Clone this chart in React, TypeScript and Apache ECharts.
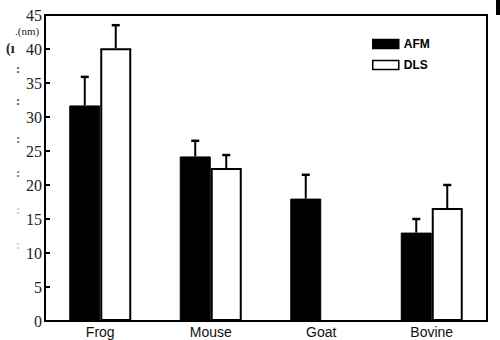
import React, { useEffect, useRef } from "react";
import * as echarts from "echarts";

const categories = ["Frog", "Mouse", "Goat", "Bovine"];
const afmValues = [31.7, 24.2, 18.0, 13.0];
const afmErrors = [4.2, 2.3, 3.5, 2.0];
const dlsValues: (number | null)[] = [40.1, 22.5, null, 16.6];
const dlsErrors: (number | null)[] = [3.4, 1.9, null, 3.4];
const seriesNames = ["AFM", "DLS"];

const BAR_W = 31;
const SERIF = "'Liberation Serif', 'Times New Roman', serif";
const SANS = "'Liberation Sans', Arial, sans-serif";

function errorSeries(values: (number | null)[], errors: (number | null)[], offset: number) {
  const data = values.map((v, i) => [i, v, errors[i]]);
  return {
    type: "custom",
    z: 5,
    silent: true,
    data: data.filter((d) => d[1] != null),
    renderItem: (params: any, api: any) => {
      const idx = api.value(0);
      const val = api.value(1);
      const err = api.value(2);
      const base = api.coord([idx, val]);
      const top = api.coord([idx, val + err]);
      const x = base[0] + offset;
      return {
        type: "group",
        children: [
          {
            type: "line",
            shape: { x1: x, y1: base[1], x2: x, y2: top[1] },
            style: { stroke: "#000", lineWidth: 2 },
          },
          {
            type: "line",
            shape: { x1: x - 4, y1: top[1], x2: x + 4, y2: top[1] },
            style: { stroke: "#000", lineWidth: 2.5 },
          },
        ],
      };
    },
  };
}

export default function App() {
  const ref = useRef<HTMLDivElement>(null);
  useEffect(() => {
    if (!ref.current) return;
    const chart = echarts.init(ref.current, undefined, { renderer: "svg" });
    const leftMarks = [
      { x: 16, y: 62, c: "#555" },
      { x: 16, y: 94, c: "#555" },
      { x: 16, y: 132, c: "#666" },
      { x: 16, y: 166, c: "#777" },
      { x: 16, y: 203, c: "#ccc" },
      { x: 16, y: 238, c: "#ccc" },
    ];
    chart.setOption({
      animation: false,
      backgroundColor: "#fff",
      grid: {
        left: 45,
        right: 13,
        top: 15,
        bottom: 19,
        show: true,
        borderColor: "#000",
        borderWidth: 2,
        containLabel: false,
      },
      legend: {
        data: [
          { name: seriesNames[0], icon: "rect" },
          { name: seriesNames[1], icon: "rect" },
        ],
        orient: "vertical",
        left: 367,
        top: 33,
        itemWidth: 26,
        itemHeight: 9,
        itemGap: 9,
        itemStyle: { borderWidth: 1.5 },
        textStyle: {
          fontFamily: SANS,
          fontWeight: "bold",
          fontSize: 12,
          color: "#000",
        },
      },
      xAxis: {
        type: "category",
        data: categories,
        axisLine: { lineStyle: { color: "#000", width: 2 } },
        axisTick: { show: false },
        axisLabel: {
          fontFamily: SANS,
          fontSize: 14,
          color: "#111",
          margin: 4,
        },
      },
      yAxis: {
        type: "value",
        min: 0,
        max: 45,
        interval: 5,
        splitLine: { show: false },
        axisLine: { show: true, lineStyle: { color: "#000", width: 2 } },
        axisTick: { show: true, inside: true, length: 5, lineStyle: { color: "#000", width: 2 } },
        axisLabel: {
          fontFamily: SERIF,
          fontSize: 16,
          color: "#222",
          margin: 3,
        },
      },
      series: [
        {
          name: "AFM",
          type: "bar",
          data: afmValues,
          barWidth: BAR_W,
          barGap: "0%",
          itemStyle: { color: "#000", borderColor: "#000", borderWidth: 1 },
        },
        {
          name: "DLS",
          type: "bar",
          data: dlsValues,
          barWidth: BAR_W,
          barGap: "0%",
          itemStyle: { color: "#fff", borderColor: "#000", borderWidth: 2 },
        },
        errorSeries(afmValues, afmErrors, -BAR_W / 2),
        errorSeries(dlsValues, dlsErrors, BAR_W / 2),
      ],
      graphic: [
        {
          type: "text",
          left: 15,
          top: 25,
          style: {
            text: ".(nm)",
            fontSize: 11,
            fontFamily: SERIF,
            fill: "#222",
          },
        },
        {
          type: "text",
          left: 6,
          top: 41,
          style: {
            text: "(ı",
            fontSize: 14,
            fontFamily: SERIF,
            fontWeight: "bold",
            fill: "#222",
          },
        },
        ...leftMarks.map((m) => ({
          type: "text",
          left: m.x,
          top: m.y,
          style: { text: ":", fontSize: 13, fontWeight: "bold", fontFamily: SERIF, fill: m.c },
        })),
        {
          type: "rect",
          shape: { x: 496, y: 0, width: 4, height: 15 },
          style: { fill: "#000" },
        },
      ],
    });
    return () => chart.dispose();
  }, []);
  return (
    <div
      ref={ref}
      style={{ position: "fixed", left: 0, top: 0, width: 500, height: 340, background: "#fff" }}
    />
  );
}
